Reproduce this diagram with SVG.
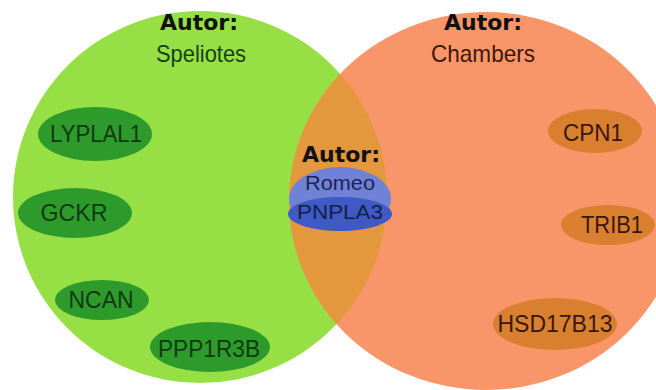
<svg xmlns="http://www.w3.org/2000/svg" width="656" height="390" viewBox="0 0 656 390">
<defs>
<style>
.t{font-family:"Liberation Sans",Arial,sans-serif;font-size:24px;text-anchor:middle}
.h{font-family:"DejaVu Sans",Verdana,sans-serif;font-weight:bold;font-size:22px;text-anchor:middle;fill:#111}
.gn{fill:#2F9A2C}
.on{fill:#D97F30}
.gt{fill:#0E3A0E}
.ot{fill:#3A1608}
</style>
<clipPath id="clipOrange"><ellipse cx="486" cy="201" rx="197" ry="189"/></clipPath>
</defs>
<rect width="656" height="390" fill="#FFFFFF"/>
<g id="set-speliotes">
<ellipse cx="200" cy="197" rx="187" ry="186" fill="#96E046"/>
<text class="h" x="199" y="30">Autor:</text>
<text class="t" x="201" y="62" textLength="90" lengthAdjust="spacingAndGlyphs" style="fill:#173F17">Speliotes</text>
</g>
<g id="set-chambers">
<ellipse cx="486" cy="201" rx="197" ry="189" fill="#F99669"/>
<text class="h" x="483" y="30">Autor:</text>
<text class="t" x="483" y="62" textLength="104" lengthAdjust="spacingAndGlyphs" style="fill:#40170D">Chambers</text>
</g>
<g id="intersection">
<ellipse cx="200" cy="197" rx="187" ry="186" fill="#E4983D" clip-path="url(#clipOrange)"/>
</g>
<g id="connectors"></g>
<g id="node-lyplal1"><ellipse class="gn" cx="95" cy="134" rx="57" ry="27"/><text class="t gt" x="96" y="142" textLength="92" lengthAdjust="spacingAndGlyphs">LYPLAL1</text></g>
<g id="node-gckr"><ellipse class="gn" cx="75" cy="213" rx="57" ry="25"/><text class="t gt" x="74" y="221" textLength="67" lengthAdjust="spacingAndGlyphs">GCKR</text></g>
<g id="node-ncan"><ellipse class="gn" cx="102" cy="300" rx="47" ry="20"/><text class="t gt" x="101" y="308" textLength="65" lengthAdjust="spacingAndGlyphs">NCAN</text></g>
<g id="node-ppp1r3b"><ellipse class="gn" cx="210" cy="347" rx="60" ry="25"/><text class="t gt" x="209" y="357" textLength="102" lengthAdjust="spacingAndGlyphs">PPP1R3B</text></g>
<g id="node-cpn1"><ellipse class="on" cx="595" cy="131" rx="47" ry="22"/><text class="t ot" x="593" y="141" textLength="60" lengthAdjust="spacingAndGlyphs">CPN1</text></g>
<g id="node-trib1"><ellipse class="on" cx="608" cy="225" rx="47" ry="20"/><text class="t ot" x="612" y="233" textLength="62" lengthAdjust="spacingAndGlyphs">TRIB1</text></g>
<g id="node-hsd17b13"><ellipse class="on" cx="555" cy="324" rx="62" ry="26"/><text class="t ot" x="555" y="332" textLength="115" lengthAdjust="spacingAndGlyphs">HSD17B13</text></g>
<g id="node-romeo">
<text class="h" x="341" y="162">Autor:</text>
<ellipse cx="340" cy="199" rx="51" ry="32" fill="#6F82D6"/>
<ellipse cx="340" cy="214" rx="52" ry="17" fill="#3F5AC5"/>
<text class="t" x="340" y="190" textLength="70" lengthAdjust="spacingAndGlyphs" style="fill:#1B2452;font-size:21px">Romeo</text>
<text class="t" x="340" y="219" textLength="86" lengthAdjust="spacingAndGlyphs" style="fill:#15204A;font-size:21px">PNPLA3</text>
</g>
</svg>
